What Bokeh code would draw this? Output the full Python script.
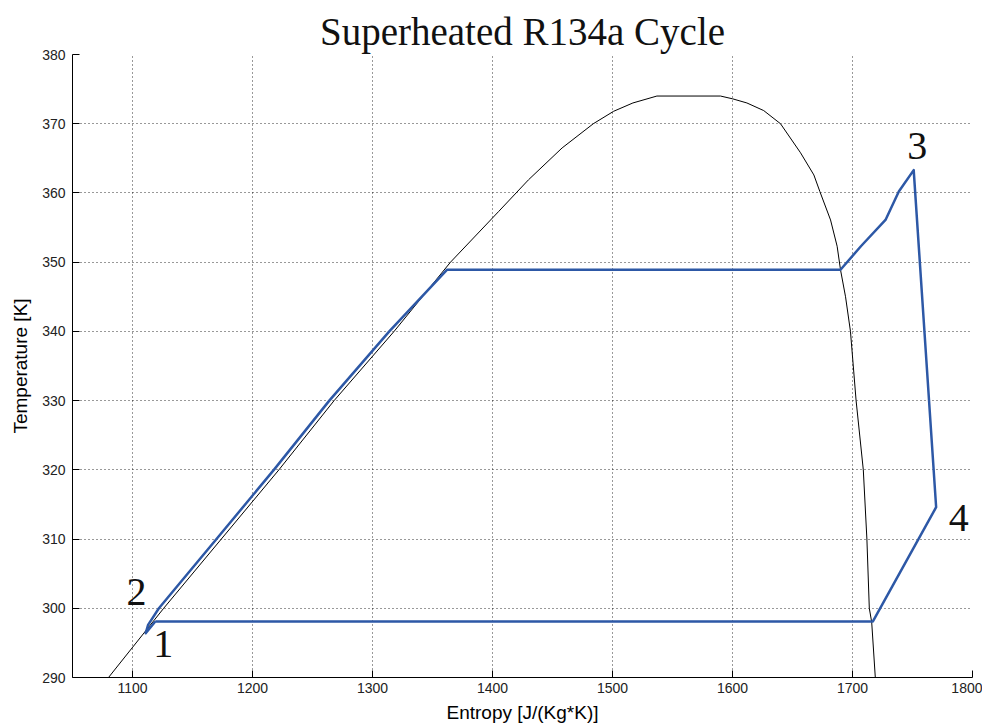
from bokeh.plotting import figure
from bokeh.models import ColumnDataSource, FixedTicker, Range1d
from bokeh.core.properties import value
from bokeh.embed import file_html
from bokeh.resources import INLINE

# Saturation dome (black)
dome_s = [1080, 1126, 1174, 1222, 1268, 1318, 1365, 1405, 1430, 1458, 1484, 1501, 1517,
          1537, 1590, 1600, 1612, 1626, 1640, 1656.7, 1667.8, 1672.8, 1681.7, 1687.2,
          1690, 1694.2, 1698.3, 1703, 1709, 1712, 1714, 1716, 1719]
dome_t = [290, 300, 310, 320, 330, 340, 350, 357.3, 361.9, 366.5, 370, 371.8, 373,
          374, 374, 373.6, 373, 371.9, 370, 365.8, 362.6, 360.2, 356.1, 352.3,
          348.9, 345, 340, 330, 320, 310, 300, 298, 290]

# Cycle path (blue)
cycle_s = [1119, 1111, 1113, 1122, 1170, 1217.8, 1264, 1314, 1362, 1690, 1707, 1727.5,
           1738.6, 1751, 1769.7, 1717, 1119]
cycle_t = [298.1, 296.4, 297.6, 300, 310, 320, 330, 340, 348.9, 348.9, 352.3, 356.1,
           360.2, 363.3, 314.6, 298.1, 298.1]

# State point labels
pt_names = ["1", "2", "3", "4"]
pt_s = [1125.6, 1103.3, 1753.9, 1788.6]
pt_t = [294.8, 302.3, 366.8, 313.0]

x_ticks = [1100, 1200, 1300, 1400, 1500, 1600, 1700, 1800]
y_ticks = [290, 300, 310, 320, 330, 340, 350, 360, 370, 380]

title_text = "Superheated R134a Cycle"

p = figure(width=982, height=727, output_backend="svg", toolbar_location=None,
           x_range=Range1d(1050, 1800), y_range=Range1d(290, 380),
           title=title_text,
           min_border_left=72, min_border_right=10, min_border_top=54, min_border_bottom=50)

p.title.align = "center"
p.title.vertical_align = "top"
p.title.standoff = 0
p.title.text_font = "Liberation Serif"
p.title.text_font_size = "39px"
p.title.text_font_style = "normal"
p.title.text_color = "#111111"

p.outline_line_color = None
p.background_fill_color = "white"
p.border_fill_color = "white"

for ax in (p.xaxis[0], p.yaxis[0]):
    ax.axis_line_color = "black"
    ax.axis_line_width = 1
    ax.major_tick_in = 7
    ax.major_tick_out = 0
    ax.minor_tick_line_color = None
    ax.major_tick_line_color = "black"
    ax.major_label_text_font = "Liberation Sans"
    ax.major_label_text_font_size = "14px"
    ax.major_label_text_color = "#222222"
    ax.axis_label_text_font = "Liberation Sans"
    ax.axis_label_text_font_size = "19px"
    ax.axis_label_text_font_style = "normal"
    ax.axis_label_text_color = "black"

p.xaxis.ticker = FixedTicker(ticks=x_ticks)
p.yaxis.ticker = FixedTicker(ticks=y_ticks)
p.xaxis.axis_label = "Entropy [J/(Kg*K)]"
p.yaxis.axis_label = "Temperature [K]"
p.xaxis.major_label_standoff = 5
p.yaxis.major_label_standoff = 7
p.xaxis.axis_label_standoff = 6
p.yaxis.axis_label_standoff = 8

for g in (p.xgrid[0], p.ygrid[0]):
    g.grid_line_color = "black"
    g.grid_line_dash = "1 3"
    g.grid_line_alpha = 0.8
    g.grid_line_width = 1
p.xgrid.ticker = FixedTicker(ticks=x_ticks)
p.ygrid.ticker = FixedTicker(ticks=y_ticks)

p.line(dome_s, dome_t, line_color="black", line_width=1)
p.line(cycle_s, cycle_t, line_color="#2d58a6", line_width=2.5, line_join="round")

src = ColumnDataSource(dict(x=pt_s, y=pt_t, t=pt_names))
p.text(x="x", y="y", text="t", source=src, text_font=value("Liberation Serif"),
       text_font_size="40px", text_align="center", text_baseline="middle",
       text_color="#111111")

open("out.html", "w").write(file_html(p, INLINE))
